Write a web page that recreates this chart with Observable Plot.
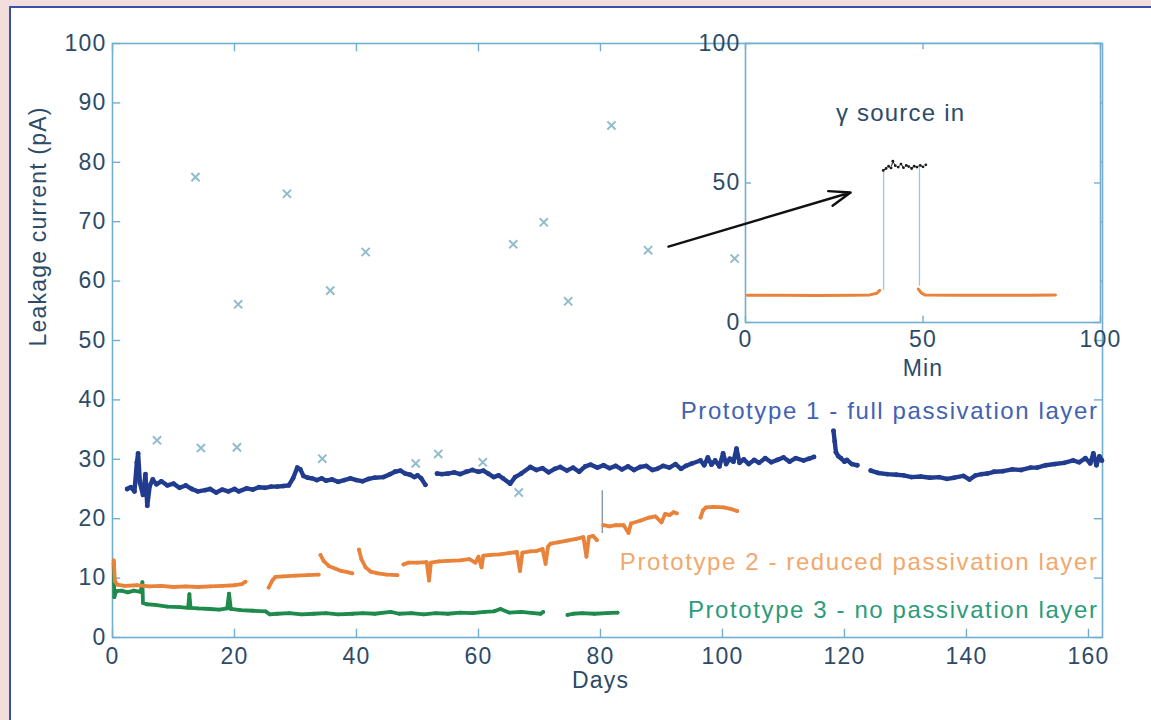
<!DOCTYPE html>
<html>
<head>
<meta charset="utf-8">
<script src="https://cdn.jsdelivr.net/npm/d3@7"></script>
<script src="https://cdn.jsdelivr.net/npm/@observablehq/plot@0.6"></script>
<style>
  html, body { margin: 0; padding: 0; width: 1151px; height: 720px; overflow: hidden; background: #f3dede; }
  #panel { position: absolute; left: 9px; top: 6px; width: 1170px; height: 740px; background: #fff;
           border-left: 2px solid #3a52a6; border-top: 2px solid #3a52a6; }
  #main, #inset { position: absolute; left: 0; top: 0; }
  #main svg text, #inset svg text { letter-spacing: 1.2px; }
</style>
</head>
<body>
<div id="panel"></div>
<div id="main"></div>
<div id="inset"></div>
<script>
// ---- long-term leakage current, three prototypes (days, pA) ----
const dayTicks = [0, 20, 40, 60, 80, 100, 120, 140, 160];
const currentTicks = [0, 10, 20, 30, 40, 50, 60, 70, 80, 90, 100];

const seriesLabels = [
  "Prototype 1 - full passivation layer",
  "Prototype 2 - reduced passivation layer",
  "Prototype 3 - no passivation layer"
];

// null marks a gap in the record
const proto1 = [
  [2.4,25.0],[3.0,25.3],[3.6,24.6],[4.0,29.5],[4.2,31.0],[4.5,26.0],[5.0,24.0],[5.4,27.5],[5.7,22.2],[6.1,25.5],
  [6.6,26.6],[7.2,25.8],[8,26.3],[9,25.6],[10,25.9],[11,25.2],[12,25.6],[13,25.0],[14,24.6],[15.2,24.8],
  [16,25.0],[17,24.4],[18,24.9],[19,24.6],[20,25.0],[20.7,24.6],[22,25.1],[23,24.9],[24,25.3],[25,25.2],
  [26,25.4],[27,25.4],[28,25.5],[28.9,25.6],[29.6,26.8],[30.3,28.6],[30.8,28.3],[31.3,27.2],[32,26.9],[32.7,26.8],
  [33.5,26.5],[34.3,26.8],[35,26.4],[36,26.6],[37,26.2],[38,26.5],[39,26.8],[40,26.5],[41,26.3],[42,26.7],
  [43,26.9],[44.4,27.0],[45.5,27.5],[46.3,27.9],[47.2,28.1],[48,27.6],[48.8,27.4],[49.5,27.0],[50,27.3],[50.6,26.8],
  [51.3,25.7], null,
  [53.2,27.6],[54,27.5],[55,27.6],[56,27.8],[57,27.5],[58,27.9],[59,28.2],[60,27.9],[60.8,28.1],[61.6,27.6],
  [62.5,27.0],[63.3,27.3],[64,26.8],[65.2,25.9],[66,27.0],[67,27.6],[68.5,28.7],[69.5,28.2],[70.5,28.5],[71.5,27.8],
  [72.5,28.4],[73.4,28.7],[74.5,28.1],[75.5,28.6],[76.5,27.9],[77.5,28.8],[78.4,29.1],[79.5,28.6],[80.5,29.0],[81.5,28.5],
  [82.5,28.9],[83.5,28.3],[84.5,28.8],[85.5,28.2],[86.5,28.7],[87.5,28.9],[88.5,28.2],[89.3,28.4],[90.3,28.9],[91.3,28.6],
  [92.3,29.2],[93.2,28.4],[94,28.9],[95,29.3],[96.4,29.8],[97,29.0],[97.6,30.3],[98.2,29.1],[98.8,29.8],[99.5,28.8],
  [100.1,31.0],[100.6,29.2],[101.2,30.1],[101.8,29.6],[102.3,31.8],[102.8,29.4],[103.5,30.0],[104.3,29.2],[105.2,29.9],[106,29.4],
  [107,30.2],[108,29.5],[109,29.9],[110,30.3],[111,29.6],[112,30.2],[113.3,29.8],[114.2,30.1],[115,30.4], null,
  [118.2,34.8],[118.4,33.0],[118.6,31.2],[119.0,30.5],[119.4,30.2],[120.0,29.6],[120.4,29.9],[121.2,29.2],[122.1,29.0], null,
  [124.3,28.1],[125.5,27.7],[127,27.5],[128.5,27.4],[129.7,27.3],[131,27.0],[132.5,27.1],[134,26.9],[135.5,27.0],[136.8,26.7],
  [138,26.9],[139.5,27.2],[140.5,26.6],[141.5,27.3],[142.5,27.5],[143.4,27.6],[144.5,27.9],[146,28.0],[147.5,28.3],[149,28.2],
  [150.5,28.6],[151.6,28.6],[153,29.0],[154.5,29.2],[156,29.4],[157.5,29.8],[158.5,29.5],[159.5,30.2],[160.3,29.3],[160.8,31.0],
  [161.3,29.0],[161.8,30.5],[162.2,29.8]
];

const proto2 = [
  [0.2,13.0],[0.4,9.5],[0.8,8.9],[2,8.7],[4,8.8],[6,8.6],[8,8.7],[10,8.5],[12,8.6],[14,8.5],
  [16,8.6],[18,8.7],[20,8.8],[21.2,9.0],[21.8,9.4], null,
  [25.6,8.4],[26.2,9.6],[26.7,10.2],[28,10.3],[30,10.4],[32,10.5],[33.8,10.6], null,
  [34.1,13.9],[34.6,12.9],[35.5,12.0],[36.5,11.6],[37.5,11.2],[38.5,11.0],[39.3,10.8], null,
  [40.4,14.8],[40.8,13.2],[41.5,11.8],[42.3,11.1],[43.5,10.8],[45,10.6],[46.7,10.5], null,
  [47.7,12.3],[48.5,12.6],[50,12.6],[51.5,12.7],[51.9,9.6],[52.2,12.6],[53.5,12.8],[55,12.9],[57,13.0],[58.5,13.2],
  [59.5,12.6],[60,13.6],[60.5,11.8],[60.8,13.8],[62,13.9],[63.5,14.0],[65,14.2],[66.3,14.4],[66.8,11.2],[67.2,14.3],
  [68.5,14.5],[69.6,14.6],[70.5,14.9],[71,12.4],[71.4,15.3],[71.8,15.8],[73,16.0],[74.5,16.3],[76,16.6],[77.2,16.9],
  [77.7,13.6],[78.1,16.9],[78.8,17.1],[79.4,16.4], null,
  [80.5,18.9],[81.5,18.7],[82.5,18.9],[83.8,18.9],[84.6,17.6],[85,19.2],[86.6,19.7],[88,20.2],[89,20.4],[90,19.4],
  [90.6,20.8],[91.3,20.6],[92,21.1],[92.5,20.9], null,
  [96.4,20.2],[96.8,21.4],[97.3,21.9],[98.5,22.0],[100.2,21.9],[101.5,21.6],[102.4,21.3]
];

const proto3 = [
  [0.2,12.5],[0.3,6.8],[0.6,7.8],[1.5,7.9],[2.5,7.6],[3.5,7.9],[4.6,7.7],[4.9,9.3],[5.0,5.8],[5.6,5.6],
  [7,5.5],[9,5.2],[11,5.1],[12.4,5.0],[12.6,7.3],[12.8,5.0],[14,4.9],[16,4.8],[17.5,4.7],[18.8,4.9],
  [19.1,7.4],[19.4,4.8],[21,4.6],[23,4.5],[25.1,4.4],[25.8,3.9],[27,4.0],[29,4.1],[31,3.9],[33,4.0],
  [35,4.1],[37,3.9],[39.3,4.0],[41,4.1],[43,4.0],[45.6,4.3],[47,4.0],[49,4.1],[51,3.9],[53,4.1],
  [55,4.0],[57,4.2],[59,4.1],[61,4.3],[62.5,4.4],[63.6,4.8],[65,4.2],[67,4.3],[69,4.1],[70.2,4.0],
  [70.6,4.3], null,
  [74.6,3.8],[75.5,4.0],[77,4.1],[79,4.0],[81,4.1],[82.8,4.2]
];

// sparse outlier readings
const outliers = [
  [7.3,33.2],[13.6,77.5],[14.5,31.9],[20.4,32.0],[20.6,56.1],[28.6,74.7],[34.4,30.1],[35.7,58.4],
  [41.5,64.9],[49.7,29.3],[53.4,30.9],[60.7,29.5],[65.7,66.2],[66.6,24.4],[70.7,69.9],[74.7,56.6],
  [81.8,86.2],[87.8,65.2],[102,63.8]
];
// short vertical streak: [day, low, high]
const streaks = [[80.3, 17.5, 24.7]];

// ---- inset: one run with the gamma source (minutes, pA) ----
const minTicks = [0, 50, 100];
const insetTicks = [0, 50, 100];
const insetNote = "\u03b3 source in";
const insetBefore = [[0.5,9.8],[10,9.8],[20,9.7],[30,9.8],[35,9.9],[37,10.5],[37.8,11.5]];
const insetAfter = [[48.7,12.0],[49.5,10.6],[50.5,9.9],[60,9.8],[70,9.8],[80,9.8],[87.3,9.9]];
const insetEdges = [[38.9, 11.5, 54.5], [49.0, 13.0, 55.5]];
const insetSource = [
  [38.8,54.5],[39.6,55.2],[40.3,56.0],[41,55.4],[41.5,57.8],[42.2,56.2],[43,55.7],[43.8,56.8],[44.5,55.5],
  [45.3,56.3],[46,55.9],[46.8,55.2],[47.5,56.0],[48.3,55.7],[49.2,56.3],[50,55.8],[50.8,56.5]
];
const arrowEnds = [[-21.7, 27.2, 29.6, 46.6]];

// ---- styling ----
const FONT = '"Liberation Sans", Arial, Helvetica, sans-serif';
const FS = 23;
const AXIS = "#72aed0";
const INK = "#2d4b68";
const BLUE = "#213c8f", ORANGE = "#e9823a", GREEN = "#1e8b4c", PALE = "#92bccd";
const LABEL_COLORS = ["#4262b2", "#f1a86c", "#2c9b7a"];
const X_MAX = 162.3;

const rows = (pairs) => pairs.map(p => p ? {day: p[0], pA: p[1]} : {day: NaN, pA: NaN});
const svgStyle = {background: "transparent", fontFamily: FONT, fontSize: FS + "px", color: INK, overflow: "visible"};

const main = Plot.plot({
  width: 1151, height: 720,
  marginLeft: 112, marginRight: 49, marginTop: 43, marginBottom: 83,
  style: svgStyle,
  x: {domain: [0, X_MAX], axis: null},
  y: {domain: [0, 100], axis: null},
  marks: [
    Plot.frame({stroke: AXIS, strokeWidth: 1.6}),
    // inward tick marks on all four sides
    Plot.ruleY(currentTicks, {y: d => d, x1: 0, x2: 1.35, stroke: AXIS, strokeWidth: 1.4}),
    Plot.ruleY(currentTicks, {y: d => d, x1: X_MAX - 1.35, x2: X_MAX, stroke: AXIS, strokeWidth: 1.4}),
    Plot.ruleX(dayTicks, {x: d => d, y1: 0, y2: 1.4, stroke: AXIS, strokeWidth: 1.4}),
    Plot.ruleX(dayTicks, {x: d => d, y1: 98.6, y2: 100, stroke: AXIS, strokeWidth: 1.4}),
    Plot.text(currentTicks, {x: 0, y: d => d, text: d => String(d), textAnchor: "end", dx: -6, fill: INK, fontSize: FS}),
    Plot.text(dayTicks, {x: d => d, y: 0, text: d => String(d), dy: 19, fill: INK, fontSize: FS}),
    Plot.text(["Days"], {frameAnchor: "bottom", dx: -7, dy: 50, fill: INK, fontSize: FS}),
    Plot.text(["Leakage current (pA)"], {frameAnchor: "left", dx: -74, dy: 6, rotate: -90, fill: INK, fontSize: FS}),

    // outliers
    Plot.dot(outliers, {x: d => d[0], y: d => d[1], symbol: "times", r: 3.8, stroke: PALE, strokeWidth: 2}),
    Plot.ruleX(streaks, {x: d => d[0], y1: d => d[1], y2: d => d[2], stroke: "#8a9aa8", strokeWidth: 1.5}),

    // series
    Plot.line(rows(proto3), {x: "day", y: "pA", stroke: GREEN, strokeWidth: 3.8}),
    Plot.dot(rows(proto3), {x: "day", y: "pA", r: 1.9, fill: GREEN}),
    Plot.line(rows(proto2), {x: "day", y: "pA", stroke: ORANGE, strokeWidth: 3.8}),
    Plot.dot(rows(proto2), {x: "day", y: "pA", r: 1.9, fill: ORANGE}),
    Plot.line(rows(proto1), {x: "day", y: "pA", stroke: BLUE, strokeWidth: 4.4}),
    Plot.dot(rows(proto1), {x: "day", y: "pA", r: 2.4, fill: BLUE}),

    // direct labels
    Plot.text(seriesLabels, {
      x: X_MAX, y: (d, i) => [38.0, 12.6, 4.5][i], text: d => d,
      textAnchor: "end", dx: -4, fontSize: 24, fill: (d, i) => LABEL_COLORS[i]
    })
  ]
});
// wider tracking for the series labels
d3.select(main).selectAll("text")
  .filter(function () { return seriesLabels.includes(this.textContent); })
  .style("letter-spacing", "1.6px");
document.getElementById("main").appendChild(main);

const inset = Plot.plot({
  width: 1151, height: 720,
  marginLeft: 745, marginRight: 51, marginTop: 43, marginBottom: 398,
  style: svgStyle,
  x: {domain: [0, 100], axis: null},
  y: {domain: [0, 100], axis: null},
  marks: [
    Plot.frame({fill: "white", stroke: AXIS, strokeWidth: 1.6}),
    Plot.ruleY(insetTicks, {y: d => d, x1: 0, x2: 1.7, stroke: AXIS, strokeWidth: 1.4}),
    Plot.ruleY(insetTicks, {y: d => d, x1: 98.3, x2: 100, stroke: AXIS, strokeWidth: 1.4}),
    Plot.ruleX(minTicks, {x: d => d, y1: 0, y2: 2.2, stroke: AXIS, strokeWidth: 1.4}),
    Plot.ruleX(minTicks, {x: d => d, y1: 97.8, y2: 100, stroke: AXIS, strokeWidth: 1.4}),
    Plot.text(insetTicks, {x: 0, y: d => d, text: d => String(d), textAnchor: "end", dx: -5, fill: INK, fontSize: FS}),
    Plot.text(minTicks, {x: d => d, y: 0, text: d => String(d), dy: 17, fill: INK, fontSize: FS}),
    Plot.text(["Min"], {x: 50, y: 0, dy: 46, fill: INK, fontSize: FS}),
    Plot.text([insetNote], {x: 43.7, y: 75, fill: INK, fontSize: 24}),

    Plot.ruleX(insetEdges, {x: d => d[0], y1: d => d[1], y2: d => d[2], stroke: "#9cc6de", strokeWidth: 1.3}),
    Plot.line(rows(insetBefore), {x: "day", y: "pA", stroke: ORANGE, strokeWidth: 3}),
    Plot.line(rows(insetAfter), {x: "day", y: "pA", stroke: ORANGE, strokeWidth: 3}),
    Plot.dot(insetSource, {x: d => d[0], y: d => d[1], r: 1.4, fill: "#1a1a1a"}),
    Plot.line(insetSource, {x: d => d[0], y: d => d[1], stroke: "#1a1a1a", strokeWidth: 1, strokeDasharray: "3,3"}),

    Plot.arrow(arrowEnds, {
      x1: d => d[0], y1: d => d[1], x2: d => d[2], y2: d => d[3],
      stroke: "#111", strokeWidth: 2.4, headLength: 14, headAngle: 40
    })
  ]
});
document.getElementById("inset").appendChild(inset);
</script>
</body>
</html>
